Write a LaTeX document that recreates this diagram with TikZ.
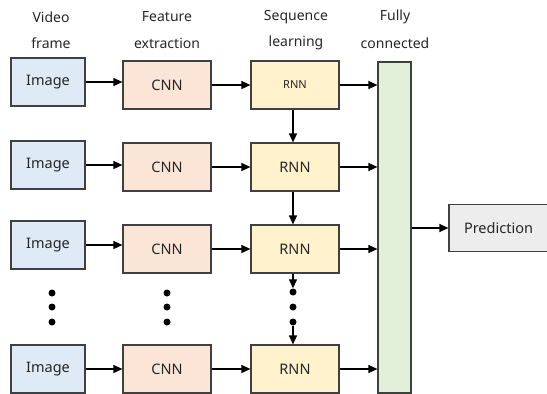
\documentclass[tikz,border=0pt]{standalone}
\usepackage{fontspec}
\setmainfont{Noto Sans}
\usetikzlibrary{arrows.meta}
\definecolor{imgfill}{HTML}{DEEBF7}
\definecolor{cnnfill}{HTML}{FBE5D6}
\definecolor{rnnfill}{HTML}{FFF2CC}
\definecolor{fcfill}{HTML}{E2F0D9}
\definecolor{predfill}{HTML}{EDEDED}
\definecolor{boxline}{HTML}{404040}
\definecolor{txt}{HTML}{262626}
\tikzset{
  box/.style={draw=boxline, line width=1.2pt, inner sep=0pt, text=txt, font=\fontsize{14.5}{16}\selectfont},
  imgbox/.style={box, fill=imgfill, minimum width=74pt, minimum height=48pt},
  cnnbox/.style={box, fill=cnnfill, minimum width=88pt, minimum height=48pt},
  rnnbox/.style={box, fill=rnnfill, minimum width=88pt, minimum height=48pt},
  hdr/.style={text=txt, font=\fontsize{14}{16}\selectfont, inner sep=0pt},
  arr/.style={-{Triangle[length=9pt,width=8pt]}, line width=1.3pt, black},
  vdot/.style={circle, fill=black, inner sep=0pt, minimum size=7pt},
}
\begin{document}
\begin{tikzpicture}[x=1pt,y=-1pt]
\useasboundingbox (0,0) rectangle (547,394);
% headers
\node[hdr] (h1a) at (51,17) {Video};
\node[hdr] (h1b) at (51,43) {frame};
\node[hdr] (h2a) at (167,17) {Feature};
\node[hdr] (h2b) at (167,43) {extraction};
\node[hdr] (h3a) at (296,17) {Sequence};
\node[hdr] (h3b) at (296,43) {learning};
\node[hdr] (h4a) at (395,17) {Fully};
\node[hdr] (h4b) at (395,43) {connected};
% rows
\node[imgbox] (i1) at (48,82) {Image};
\node[cnnbox] (c1) at (167,85) {CNN};
\node[rnnbox, font=\fontsize{11}{13}\selectfont] (r1) at (295,85) {RNN};
\node[imgbox] (i2) at (48,165) {Image};
\node[cnnbox] (c2) at (167,167) {CNN};
\node[rnnbox] (r2) at (295,167) {RNN};
\node[imgbox] (i3) at (48,245) {Image};
\node[cnnbox] (c3) at (167,249) {CNN};
\node[rnnbox] (r3) at (295,249) {RNN};
\node[imgbox] (i4) at (48,369) {Image};
\node[cnnbox] (c4) at (167,369) {CNN};
\node[rnnbox] (r4) at (295,369) {RNN};
% fully connected
\node[box, fill=fcfill, minimum width=33pt, minimum height=331pt] (fc) at (394.5,227.5) {};
% prediction
\node[box, fill=predfill, minimum width=99pt, minimum height=47pt] (pred) at (498.5,228) {Prediction};
% dots
\node[vdot] (d1a) at (52,293) {};
\node[vdot] (d1b) at (52,307) {};
\node[vdot] (d1c) at (52,322) {};
\node[vdot] (d2a) at (167,293) {};
\node[vdot] (d2b) at (167,307) {};
\node[vdot] (d2c) at (167,322) {};
\node[vdot] (d3a) at (293,292) {};
\node[vdot] (d3b) at (293,307) {};
\node[vdot] (d3c) at (293,322) {};
% arrows
\foreach \k in {1,2,3,4}{
  \draw[arr] (i\k.east) -- (c\k.west |- i\k.east);
  \draw[arr] (c\k.east) -- (r\k.west);
  \draw[arr] (r\k.east) -- (fc.west |- r\k.east);
}
\draw[arr] (r1.south -| d3a) -- (r2.north -| d3a);
\draw[arr] (r2.south -| d3a) -- (r3.north -| d3a);
\draw[arr] (r3.south -| d3a) -- (d3a.north);
\draw[arr] (d3c.south) -- (r4.north -| d3a);
\draw[arr] (pred.west -| fc.east) -- (pred.west);
\end{tikzpicture}
\end{document}
